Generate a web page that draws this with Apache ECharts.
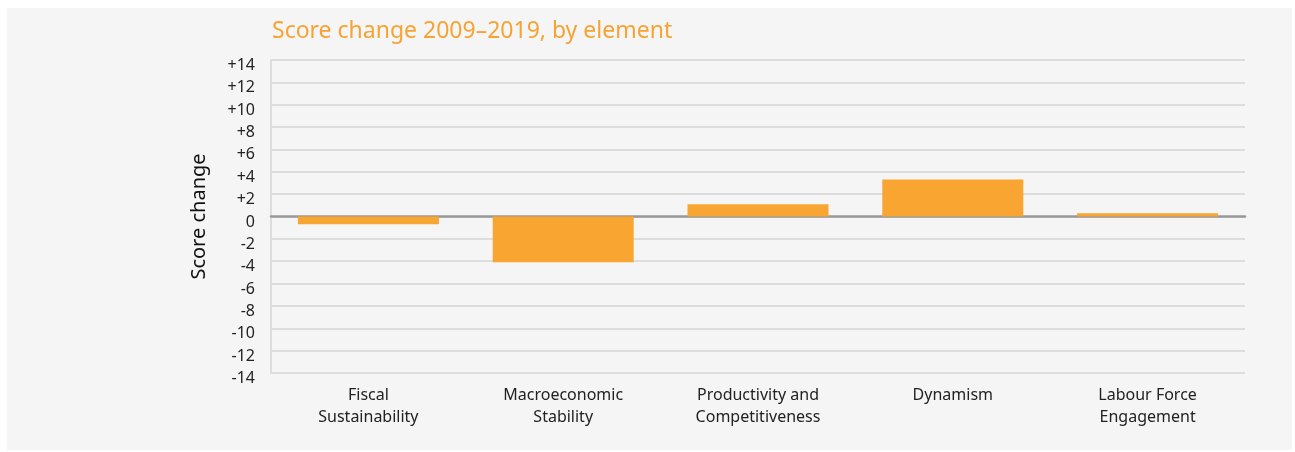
<!DOCTYPE html>
<html>
<head>
<meta charset="utf-8">
<script src="https://cdn.jsdelivr.net/npm/echarts@6/dist/echarts.min.js"></script>
<style>
html,body{margin:0;padding:0;background:#ffffff;}
#chart{width:1295px;height:452px;}
</style>
</head>
<body>
<div id="chart"></div>
<script>
const categories = ["Fiscal\nSustainability", "Macroeconomic\nStability", "Productivity and\nCompetitiveness", "Dynamism", "Labour Force\nEngagement"];
const scoreChange = [-0.7, -4.1, 1.1, 3.3, 0.3];
const yMin = -14, yMax = 14, yStep = 2;

const chart = echarts.init(document.getElementById('chart'), null, {renderer: 'canvas'});
const font = '"Noto Sans", "Open Sans", sans-serif';
chart.setOption({
  backgroundColor: '#ffffff',
  animation: false,
  graphic: [{
    type: 'rect', z: -10, silent: true,
    shape: {x: 7, y: 8, width: 1285, height: 442},
    style: {fill: '#f5f5f5'}
  }],
  title: {
    text: 'Score change 2009–2019, by element',
    left: 267, top: 15,
    textStyle: {color: '#f7a333', fontSize: 23, fontWeight: 'normal', fontFamily: font}
  },
  grid: {left: 271, right: 50, top: 60, bottom: 79, containLabel: false},
  xAxis: {
    type: 'category',
    data: categories,
    axisLine: {onZero: true, lineStyle: {color: '#999999', width: 2.5}},
    axisTick: {show: false},
    axisLabel: {
      color: '#222', fontSize: 16, fontFamily: font, lineHeight: 22,
      margin: 11
    }
  },
  yAxis: {
    type: 'value',
    min: yMin, max: yMax, interval: yStep,
    name: 'Score change',
    nameLocation: 'middle',
    nameGap: 62,
    nameRotate: 90,
    nameTextStyle: {color: '#111', fontSize: 20, fontFamily: font},
    axisLine: {show: true, lineStyle: {color: '#dddddd', width: 2}},
    axisTick: {show: false},
    splitLine: {lineStyle: {color: '#dddddd', width: 2}},
    axisLabel: {
      color: '#222', fontSize: 16, fontFamily: font, margin: 16,
      verticalAlign: 'top', lineHeight: 11,
      formatter: function (v) { return v > 0 ? '+' + v : String(v); }
    }
  },
  series: [{
    type: 'bar',
    data: scoreChange,
    barWidth: 141,
    itemStyle: {color: '#f8a631'},
    z: 1
  }]
});
</script>
</body>
</html>
